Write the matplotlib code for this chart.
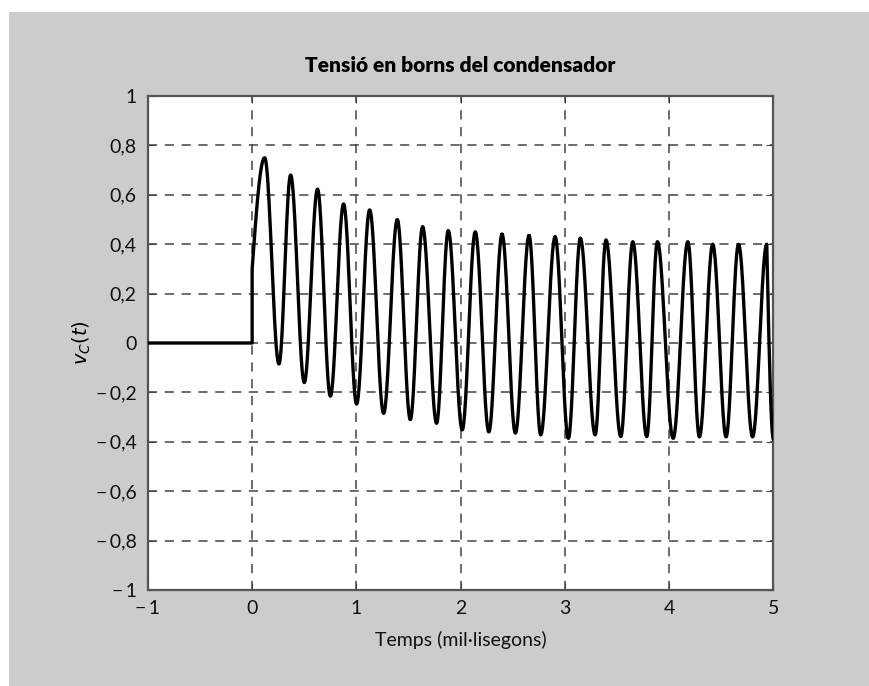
import numpy as np
import matplotlib.pyplot as plt

plt.rcParams['font.family'] = ['Lato', 'DejaVu Sans']

# extrema of v_C(t) (time in ms, value in V)
t_ext = [0.0, 0.12, 0.257, 0.369, 0.50, 0.627, 0.75, 0.877, 1.002, 1.127, 1.261,
         1.392, 1.517, 1.635, 1.769, 1.881, 2.015, 2.14, 2.27, 2.397, 2.525,
         2.656, 2.768, 2.906, 3.033, 3.148, 3.29, 3.394, 3.536, 3.651, 3.785,
         3.887, 4.038, 4.179, 4.29, 4.418, 4.546, 4.665, 4.80, 4.936, 5.0]
v_ext = [0.30, 0.75, -0.085, 0.68, -0.16, 0.623, -0.215, 0.563, -0.247, 0.539, -0.285,
         0.50, -0.31, 0.47, -0.325, 0.455, -0.352, 0.45, -0.36, 0.44, -0.365,
         0.435, -0.372, 0.43, -0.386, 0.424, -0.372, 0.417, -0.379, 0.41, -0.379,
         0.41, -0.386, 0.41, -0.38, 0.40, -0.38, 0.40, -0.38, 0.40, -0.39]

x_ticks = [-1, 0, 1, 2, 3, 4, 5]
x_labels = ['\u2212\u20091', '0', '1', '2', '3', '4', '5']
y_ticks = [-1, -0.8, -0.6, -0.4, -0.2, 0, 0.2, 0.4, 0.6, 0.8, 1]
y_labels = ['\u2212\u20091', '\u2212\u20090,8', '\u2212\u20090,6', '\u2212\u20090,4',
            '\u2212\u20090,2', '0', '0,2', '0,4', '0,6', '0,8', '1']

# build the curve: flat zero before t=0, then smooth half-waves between extrema
t = [-1.0, 0.0]
v = [0.0, 0.0]
for i in range(len(t_ext) - 1):
    s = np.linspace(0, 1, 40)
    if i == 0 or i == len(t_ext) - 2:
        shape = np.sin(np.pi / 2 * s)
    else:
        shape = (1 - np.cos(np.pi * s)) / 2
    t.extend(t_ext[i] + (t_ext[i + 1] - t_ext[i]) * s)
    v.extend(v_ext[i] + (v_ext[i + 1] - v_ext[i]) * shape)

fig = plt.figure(figsize=(8.7, 6.86), dpi=100)
fig.patch.set_facecolor('white')
fig.patches.append(plt.Rectangle((9 / 870, 0), 1, 1 - 12 / 686, transform=fig.transFigure,
                                 facecolor='#cccccc', edgecolor='none', zorder=-10))
ax = fig.add_axes([0.170, 0.140, 0.719, 0.720])
ax.plot(t, v, color='black', lw=2.4, zorder=3)

ax.set_xlim(-1, 5)
ax.set_ylim(-1, 1)
ax.set_xticks(x_ticks)
ax.set_xticklabels(x_labels)
ax.set_yticks(y_ticks)
ax.set_yticklabels(y_labels)
ax.tick_params(direction='in', length=5, labelsize=14, top=True, right=True,
               color='#444444', labelcolor='#111111')
ax.tick_params(axis='x', pad=7)
ax.tick_params(axis='y', pad=8)
ax.grid(True, linestyle=(0, (6, 5)), color='#444444', lw=1.1)
for sp in ax.spines.values():
    sp.set_color('#555555')
    sp.set_linewidth(1.6)

ax.set_title('Tensió en borns del condensador', fontsize=15, fontweight='heavy', pad=17)
ax.set_xlabel('Temps (mil·lisegons)', fontsize=14, labelpad=10, color='#111111')
ax.set_ylabel(r'$v_C(t)$', fontsize=14, labelpad=2)

fig.savefig('out.png', dpi=100)
